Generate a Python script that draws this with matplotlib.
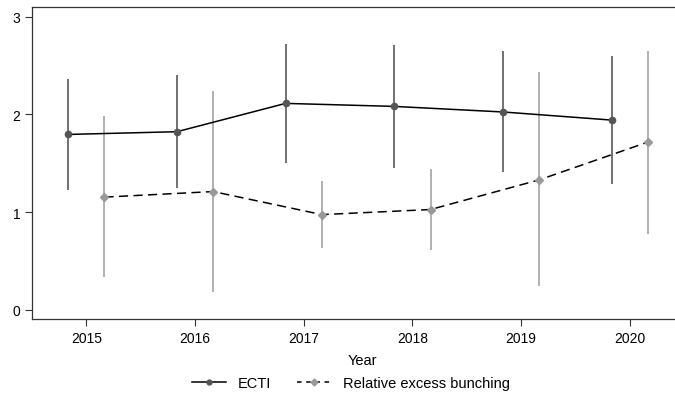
import numpy as np
import matplotlib
matplotlib.use("Agg")
import matplotlib.pyplot as plt
from matplotlib.lines import Line2D

plt.rcParams['font.family'] = ['Liberation Sans', 'DejaVu Sans']

years = np.array([2015, 2016, 2017, 2018, 2019, 2020])

# ECTI estimates and confidence bounds
ecti = [1.795, 1.823, 2.113, 2.082, 2.025, 1.942]
ecti_lo = [1.221, 1.245, 1.502, 1.453, 1.409, 1.289]
ecti_hi = [2.366, 2.404, 2.725, 2.708, 2.646, 2.599]

# Relative excess bunching estimates and confidence bounds
bunch = [1.153, 1.210, 0.974, 1.026, 1.330, 1.717]
bunch_lo = [0.332, 0.178, 0.630, 0.615, 0.240, 0.776]
bunch_hi = [1.984, 2.240, 1.323, 1.436, 2.435, 2.650]

fig = plt.figure(figsize=(6.75, 4.02), dpi=100)
ax = fig.add_axes([32 / 675, 82 / 402, 660 / 675, 312 / 402])

x1 = years - 1 / 6
x2 = years + 1 / 6

ax.vlines(x1, ecti_lo, ecti_hi, color='#666666', lw=1.3, zorder=2)
ax.plot(x1, ecti, color='black', lw=1.1, zorder=3)
ax.plot(x1, ecti, 'o', color='#555555', ms=4.5, zorder=4)

ax.vlines(x2, bunch_lo, bunch_hi, color='#aaaaaa', lw=1.3, zorder=2)
ax.plot(x2, bunch, color='black', lw=1.1, ls=(0, (6, 3.5)), zorder=3)
ax.plot(x2, bunch, 'D', color='#999999', ms=4, zorder=4)

ax.set_xlim(2014.5, 2014.5 + 660 / 108.7)
ax.set_ylim(-0.095, 3.1)
ax.set_xticks(years)
ax.set_yticks([0, 1, 2, 3])
ax.tick_params(labelsize=10, length=5, width=0.8, color='#333333')
ax.set_xlabel('Year', fontsize=10.5, labelpad=6)
for s in ax.spines.values():
    s.set_color('#333333')
    s.set_linewidth(0.9)
ax.spines['right'].set_visible(False)

handles = [
    Line2D([], [], color='black', lw=1.1, marker='o', mfc='#555555',
           mec='#555555', ms=3.5),
    Line2D([], [], color='black', lw=1.1, ls=(0, (3, 3)), marker='D',
           mfc='#999999', mec='#999999', ms=3.5),
]
fig.legend(handles, ['ECTI', 'Relative excess bunching'], loc='center',
           bbox_to_anchor=(0.52, 0.045), ncol=2, frameon=False, fontsize=10.5,
           handlelength=2.3, columnspacing=1.8)

fig.savefig('out.png', dpi=100)
